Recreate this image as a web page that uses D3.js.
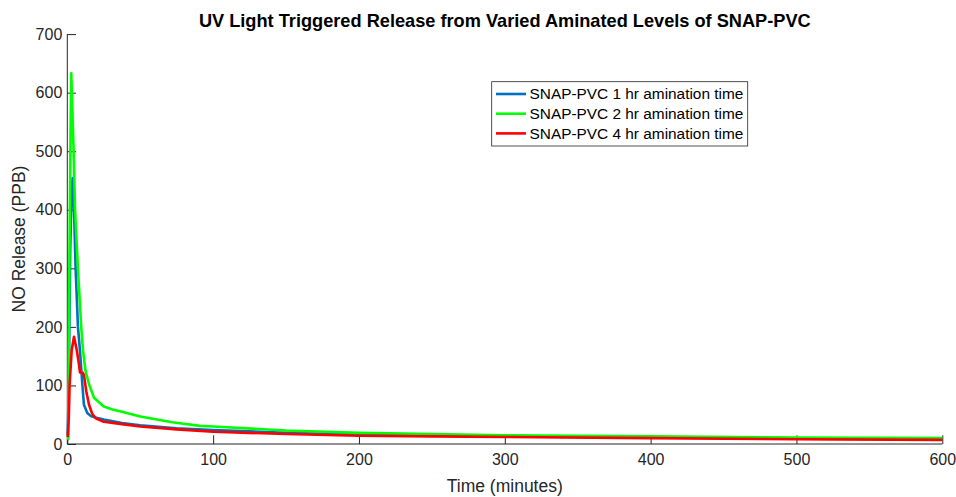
<!DOCTYPE html>
<html><head><meta charset="utf-8">
<script src="https://cdn.jsdelivr.net/npm/d3@7"></script>
<style>body{margin:0;background:#fff}svg{display:block}text{font-family:"Liberation Sans",Arial,sans-serif}</style>
</head><body><svg id="c" width="956" height="497"></svg>
<script>
const seriesNames = ["SNAP-PVC 1 hr amination time","SNAP-PVC 2 hr amination time","SNAP-PVC 4 hr amination time"];
const seriesColors = ["#0072BD","#00FF00","#FF0000"];
const xTicks = [0,100,200,300,400,500,600];
const yTicks = [0,100,200,300,400,500,600,700];
// time (minutes)
const time1 = [0.3,1,2,3,3.7,4.6,5.7,7.3,8.7,10.3,11.4,13.7,16,20,25,37.5,50,75,100,150,200,250,300,400,500,600];
const release1 = [15,100,330,440,454,400,300,200,159,102,67,53,48,45,42,36,32,27,24,19,16,14.5,13,11,9,8];
const time2 = [0.3,0.7,1,1.5,2.1,2.7,3.5,4.3,5.3,7.3,9.6,10.8,12.5,14.9,18.3,25,31,37.5,50,72,91,100,150,200,250,300,400,500,600];
const release2 = [7,9,150,330,500,633,570,503,400,299,198,159,125,102,79,64,59,55,47,37,31,30,23,19,17,15,13,11,10];
const time3 = [0.3,1,1.6,3,4.6,6.5,8,8.7,10.5,11.4,13,14.9,17,19.5,25,37.5,50,75,100,150,200,250,300,400,500,600];
const release3 = [12,44,102,160,183,160,136,122,122,118,90,67,52,44,38,34,30,25,21,17,14,13,12,10,8,7];

const times = [time1,time2,time3];
const releases = [release1,release2,release3];

const svg = d3.select("#c");
const m = {l:67.3, r:942.3, t:34.1, b:444};
const x = d3.scaleLinear().domain([0,600]).range([m.l,m.r]);
const y = d3.scaleLinear().domain([0,700]).range([m.b,m.t]);
const axCol = "#262626";

// axes
const xa = svg.append("g").attr("transform",`translate(0,${m.b})`)
  .call(d3.axisBottom(x).tickValues(xTicks).tickSizeInner(-8.7).tickSizeOuter(0).tickPadding(10));
const ya = svg.append("g").attr("transform",`translate(${m.l},0)`)
  .call(d3.axisLeft(y).tickValues(yTicks).tickSizeInner(-8.7).tickSizeOuter(0).tickPadding(5));
[xa,ya].forEach(a=>{
  a.select(".domain").attr("stroke",axCol).attr("stroke-width",1);
  a.selectAll(".tick line").attr("stroke",axCol).attr("stroke-width",1);
  a.selectAll(".tick text").attr("fill",axCol).style("font-size","16px");
});
ya.select(".domain").attr("d",`M0,${m.b}V${m.t}`);
xa.select(".domain").attr("d",`M${m.l},0H${m.r}`);

// lines
const line = d3.line().x(d=>x(d[0])).y(d=>y(d[1]));
times.forEach((t,i)=>{
  const pts = t.map((v,j)=>[v,releases[i][j]]);
  svg.append("path").datum(pts).attr("d",line).attr("fill","none")
    .attr("stroke",seriesColors[i]).attr("stroke-width",2.6).attr("stroke-linejoin","round");
});

// labels
svg.append("text").attr("x",(m.l+m.r)/2).attr("y",27).attr("text-anchor","middle")
  .style("font-size","18.2px").style("font-weight","bold").attr("fill","#000")
  .text("UV Light Triggered Release from Varied Aminated Levels of SNAP-PVC");
svg.append("text").attr("x",(m.l+m.r)/2).attr("y",492).attr("text-anchor","middle")
  .style("font-size","17.5px").attr("fill",axCol).text("Time (minutes)");
svg.append("text").attr("transform",`translate(25,${(m.t+m.b)/2}) rotate(-90)`).attr("text-anchor","middle")
  .style("font-size","17.5px").attr("fill",axCol).text("NO Release (PPB)");

// legend
const lg = svg.append("g");
lg.append("rect").attr("x",491.7).attr("y",81.7).attr("width",256).attr("height",64.3)
  .attr("fill","#fff").attr("stroke","#262626").attr("stroke-width",0.8);
seriesNames.forEach((n,i)=>{
  const yy = 94 + i*19.7;
  lg.append("line").attr("x1",496).attr("x2",526).attr("y1",yy).attr("y2",yy)
    .attr("stroke",seriesColors[i]).attr("stroke-width",2.6);
  lg.append("text").attr("x",529.5).attr("y",yy+5.3).style("font-size","15.4px").attr("fill","#000").text(n);
});
</script></body></html>
